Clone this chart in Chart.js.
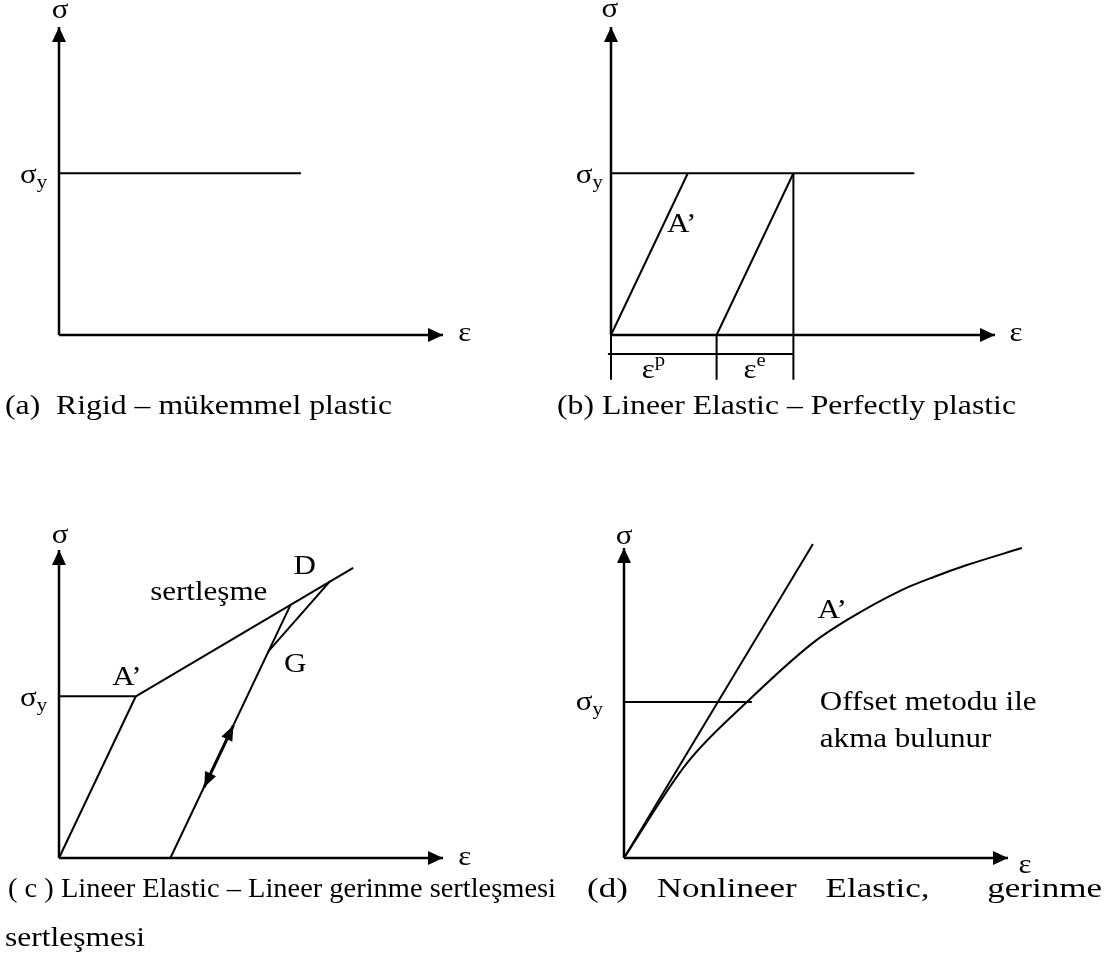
<!DOCTYPE html>
<html>
<head>
<meta charset="utf-8">
<script src="https://cdn.jsdelivr.net/npm/chart.js@4"></script>
<style>
  body { margin: 0; background: #fff; }
  #page { position: relative; width: 1112px; height: 980px; font-family: "Liberation Serif", "Times New Roman", serif; color: #000; }
  .panel { position: absolute; }
  .caption { position: absolute; font-size: 28px; line-height: 30px; white-space: pre; transform-origin: 0 50%; }
</style>
</head>
<body>
<div id="page">
  <canvas id="chartA" class="panel" width="556" height="440" style="left:0;top:0"></canvas>
  <canvas id="chartB" class="panel" width="556" height="440" style="left:556px;top:0"></canvas>
  <canvas id="chartC" class="panel" width="556" height="440" style="left:0;top:490px"></canvas>
  <canvas id="chartD" class="panel" width="556" height="440" style="left:556px;top:490px"></canvas>

  <div class="caption" data-w="387" style="left:5px;top:390px">(a)  Rigid – mükemmel plastic</div>
  <div class="caption" data-w="459" style="left:557px;top:390px">(b) Lineer Elastic – Perfectly plastic</div>
  <div class="caption" data-w="548" style="left:8px;top:873px">( c ) Lineer Elastic – Lineer gerinme sertleşmesi</div>
  <div class="caption" data-w="515" style="left:587px;top:873px;word-spacing:16px">(d) Nonlineer Elastic,  gerinme</div>
  <div class="caption" data-w="140" style="left:5px;top:922px">sertleşmesi</div>
</div>

<script>
// shared axes (strain to the right, stress up)
const axisX = [{x: 0, y: 0}, {x: 10, y: 0}];
const axisY = [{x: 0, y: 0}, {x: 0, y: 10}];

// (a) rigid - perfectly plastic
const yieldA = [{x: 0, y: 5.25}, {x: 6.3, y: 5.25}];

// (b) linear elastic - perfectly plastic
const yieldB = [{x: 0, y: 5.25}, {x: 7.9, y: 5.25}];
const loadB = [{x: 0, y: 0}, {x: 2.0, y: 5.25}];
const unloadB = [{x: 2.75, y: 0}, {x: 4.75, y: 5.25}];
const dropB = [{x: 4.75, y: 5.25}, {x: 4.75, y: -1.45}];
const tickB0 = [{x: 0, y: 0}, {x: 0, y: -1.45}];
const tickB1 = [{x: 2.75, y: 0}, {x: 2.75, y: -1.45}];
const strainBarB = [{x: -0.08, y: -0.62}, {x: 4.75, y: -0.62}];

// (c) linear elastic - linear strain hardening
const yieldC = [{x: 0, y: 5.25}, {x: 2.0, y: 5.25}];
const loadC = [{x: 0, y: 0}, {x: 2.0, y: 5.25}];
const hardenC = [{x: 2.0, y: 5.25}, {x: 7.66, y: 9.42}];
const unloadC = [{x: 2.9, y: 0}, {x: 6.03, y: 8.22}];
const cycleC = [{x: 3.78, y: 2.3}, {x: 4.54, y: 4.3}];
const reloadC = [{x: 7.06, y: 8.99}, {x: 5.44, y: 6.69}];

// (d) nonlinear elastic
const yieldD = [{x: 0, y: 5.03}, {x: 3.33, y: 5.03}];
const tangentD = [{x: 0, y: 0}, {x: 4.92, y: 10.13}];
const curveD = [
  {x: 0, y: 0}, {x: 1.64, y: 3.06}, {x: 3.2, y: 5.03}, {x: 4.92, y: 6.94},
  {x: 5.81, y: 7.68}, {x: 7.19, y: 8.62}, {x: 8.1, y: 9.08}, {x: 8.93, y: 9.45},
  {x: 10.36, y: 10.0}
];

const FONT = '"Liberation Serif", "Times New Roman", serif';
const TEXT_STRETCH = 1.15;

// captions are set a little wide; squeeze/stretch each one to its line length
document.querySelectorAll('.caption').forEach(el => {
  const w = el.getBoundingClientRect().width;
  el.style.transform = `scaleX(${el.dataset.w / w})`;
});

// arrowheads and text drawn on top of the lines, placed through the scales
const diagramPlugin = {
  id: 'diagram',
  afterDatasetsDraw(chart, args, opts) {
    const {ctx, scales: {x, y}} = chart;
    ctx.save();
    ctx.fillStyle = '#000';
    (opts.arrows || []).forEach(a => {
      const tx = x.getPixelForValue(a.at.x), ty = y.getPixelForValue(a.at.y);
      const fx = x.getPixelForValue(a.from.x), fy = y.getPixelForValue(a.from.y);
      const ang = Math.atan2(ty - fy, tx - fx);
      const len = a.len || 15, half = a.half || 7;
      const bx = tx - len * Math.cos(ang), by = ty - len * Math.sin(ang);
      ctx.beginPath();
      ctx.moveTo(tx, ty);
      ctx.lineTo(bx + half * Math.sin(ang), by - half * Math.cos(ang));
      ctx.lineTo(bx - half * Math.sin(ang), by + half * Math.cos(ang));
      ctx.closePath();
      ctx.fill();
    });
    ctx.textBaseline = 'middle';
    ctx.textAlign = 'left';
    (opts.labels || []).forEach(l => {
      const px = x.getPixelForValue(l.at.x), py = y.getPixelForValue(l.at.y);
      const main = `${l.size || 27}px ${FONT}`, small = `18px ${FONT}`;
      ctx.font = main;
      const mainW = ctx.measureText(l.text).width;
      const script = l.sub || l.sup || '';
      ctx.font = small;
      const scriptW = script ? ctx.measureText(script).width : 0;
      const total = (mainW + scriptW) * TEXT_STRETCH;
      const left = l.align === 'right' ? px - total : l.align === 'left' ? px : px - total / 2;
      ctx.save();
      ctx.translate(left, py);
      ctx.scale(TEXT_STRETCH, 1);
      ctx.font = main;
      ctx.fillText(l.text, 0, 0);
      if (script) {
        ctx.font = small;
        ctx.fillText(script, mainW, l.sub ? 7 : -10);
      }
      ctx.restore();
    });
    ctx.restore();
  }
};

function line(data, width = 2, extra = {}) {
  return Object.assign({
    data, showLine: true, borderColor: '#000', borderWidth: width,
    pointRadius: 0, fill: false, clip: false, tension: 0
  }, extra);
}

function drawPanel(id, padding, datasets, overlay) {
  return new Chart(document.getElementById(id), {
    type: 'scatter',
    data: { datasets },
    options: {
      responsive: false,
      animation: false,
      layout: { padding },
      scales: {
        x: { type: 'linear', min: 0, max: 10, display: false },
        y: { type: 'linear', min: 0, max: 10, display: false }
      },
      plugins: { legend: { display: false }, tooltip: { enabled: false }, diagram: overlay }
    },
    plugins: [diagramPlugin]
  });
}

const axisArrows = [
  {at: axisX[1], from: axisX[0]},
  {at: axisY[1], from: axisY[0]}
];

drawPanel('chartA', {left: 59, right: 113, top: 27, bottom: 105},
  [line(axisX, 2.5), line(axisY, 2.5), line(yieldA)],
  {
    arrows: axisArrows,
    labels: [
      {text: 'σ', at: {x: 0.03, y: 10.52}},
      {text: 'σ', sub: 'y', at: {x: -0.31, y: 5.16}, align: 'right'},
      {text: 'ε', at: {x: 10.57, y: 0.05}}
    ]
  });

drawPanel('chartB', {left: 55, right: 117, top: 27, bottom: 105},
  [line(axisX, 2.5), line(axisY, 2.5), line(yieldB), line(loadB), line(unloadB),
   line(dropB), line(tickB0), line(tickB1), line(strainBarB)],
  {
    arrows: axisArrows,
    labels: [
      {text: 'σ', at: {x: -0.03, y: 10.55}},
      {text: 'σ', sub: 'y', at: {x: -0.21, y: 5.16}, align: 'right'},
      {text: 'ε', at: {x: 10.55, y: 0.05}},
      {text: 'A’', at: {x: 1.46, y: 3.57}, align: 'left'},
      {text: 'ε', sup: 'p', at: {x: 0.8, y: -1.17}, align: 'left'},
      {text: 'ε', sup: 'e', at: {x: 3.45, y: -1.17}, align: 'left'}
    ]
  });

drawPanel('chartC', {left: 59, right: 113, top: 60, bottom: 72},
  [line(axisX, 2.5), line(axisY, 2.5), line(yieldC), line(loadC), line(hardenC),
   line(unloadC), line(cycleC, 3), line(reloadC)],
  {
    arrows: axisArrows.concat([
      {at: cycleC[1], from: cycleC[0], len: 15, half: 6},
      {at: cycleC[0], from: cycleC[1], len: 15, half: 6}
    ]),
    labels: [
      {text: 'σ', at: {x: 0.03, y: 10.45}},
      {text: 'σ', sub: 'y', at: {x: -0.31, y: 5.16}, align: 'right'},
      {text: 'ε', at: {x: 10.57, y: 0}},
      {text: 'A’', at: {x: 1.77, y: 5.84}},
      {text: 'sertleşme', at: {x: 3.9, y: 8.6}},
      {text: 'D', at: {x: 6.4, y: 9.45}},
      {text: 'G', at: {x: 6.15, y: 6.27}}
    ]
  });

drawPanel('chartD', {left: 68, right: 104, top: 58, bottom: 72},
  [line(axisX, 2.5), line(axisY, 2.5), line(yieldD), line(tangentD),
   line(curveD, 2, {cubicInterpolationMode: 'monotone'})],
  {
    arrows: axisArrows,
    labels: [
      {text: 'σ', at: {x: 0, y: 10.35}},
      {text: 'σ', sub: 'y', at: {x: -0.55, y: 5.0}, align: 'right'},
      {text: 'ε', at: {x: 10.44, y: -0.26}},
      {text: 'A’', at: {x: 5.42, y: 7.97}},
      {text: 'Offset metodu ile', at: {x: 5.1, y: 5.0}, align: 'left'},
      {text: 'akma bulunur', at: {x: 5.1, y: 3.8}, align: 'left'}
    ]
  });
</script>
</body>
</html>
